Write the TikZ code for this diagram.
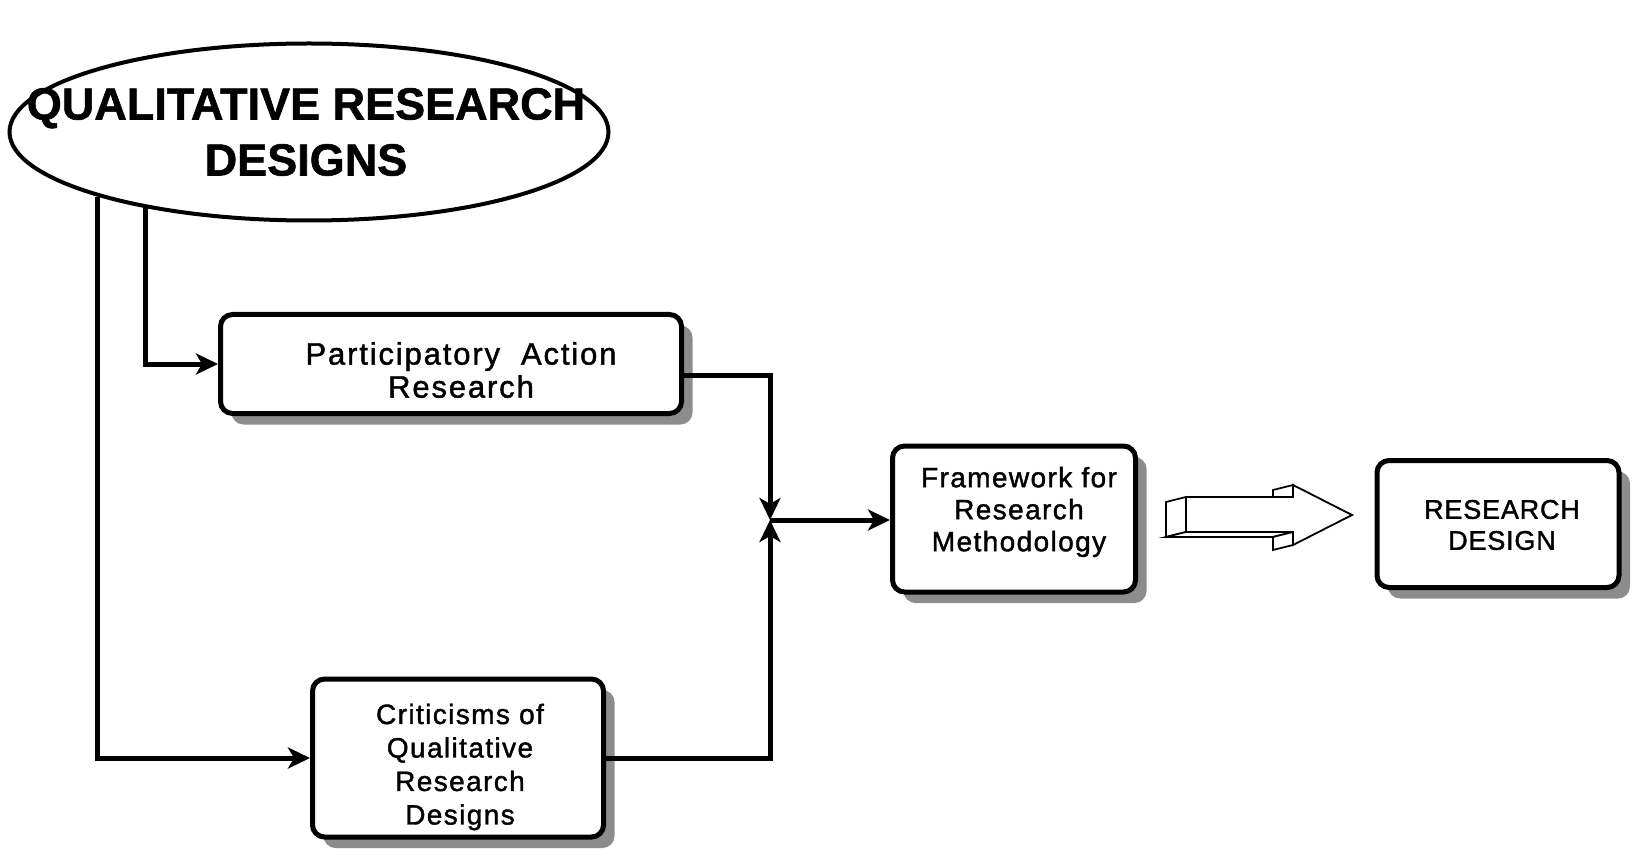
\documentclass[tikz,border=0pt]{standalone}
\usepackage{fontspec}
\setmainfont{Liberation Sans}
\newfontfamily\titlefont[FakeBold=1.2]{Liberation Sans Bold}
\newfontfamily\boxfont[LetterSpace=5,FakeBold=1.4]{Liberation Sans}
\newfontfamily\parfont[LetterSpace=6,FakeBold=1.4]{Liberation Sans}
\newfontfamily\rdfont[LetterSpace=3,FakeBold=1.4]{Liberation Sans}
\usetikzlibrary{arrows.meta,shapes.geometric,shadows}

\begin{document}
\begin{tikzpicture}[x=1pt,y=-1pt,
  box/.style={draw, line width=5pt, rounded corners=12pt, fill=white,
    inner sep=0pt,
    drop shadow={shadow xshift=11pt, shadow yshift=-11pt, opacity=1, fill=black!45}},
  boxtext/.style={align=center, inner sep=0pt},
  conn/.style={line width=5pt, -{Stealth[length=22pt,width=21pt,inset=6pt]}},
  fat/.style={draw, line width=1.8pt, fill=white, line join=miter}
]
\useasboundingbox (0,0) rectangle (1635,858);

% heading ellipse and its title
\node[draw, ellipse, line width=4pt, minimum width=599pt, minimum height=177pt,
      inner sep=0pt, fill=white] (ell) at (309,132) {};
\node[font=\titlefont\fontsize{45}{56}\selectfont, align=center] (title) at (306,132)
  {QUALITATIVE RESEARCH\\DESIGNS};

% boxes
\node[box, minimum width=461pt, minimum height=99pt] (par) at (451,364) {};
\node[boxtext, font=\parfont\fontsize{31}{33}\selectfont] (partext) at (461,370)
  {Participatory\ \ Action\\Research};

\node[box, minimum width=291pt, minimum height=158pt] (crit) at (458,758) {};
\node[boxtext, font=\boxfont\fontsize{28}{33.5}\selectfont] (crittext) at (460,767)
  {Criticisms of\\Qualitative\\Research\\Designs};

\node[box, minimum width=243pt, minimum height=146pt] (frame) at (1014,519) {};
\node[boxtext, font=\boxfont\fontsize{28}{32}\selectfont] (frametext) at (1019,512)
  {Framework for\\Research\\Methodology};

\node[box, minimum width=242pt, minimum height=127pt] (rd) at (1498,524) {};
\node[boxtext, font=\rdfont\fontsize{27}{31}\selectfont] (rdtext) at (1502,525)
  {RESEARCH\\DESIGN};

% connectors
\coordinate (jn) at (770,520);
\draw[conn] (ell.205) |- (par.west);
\draw[conn] (ell.197) |- (crit.west);
\draw[conn] ([yshift=-11pt]par.east) -| (jn);
\draw[conn] (crit.east) -| (jn);
\draw[conn] (jn) -- (jn -| frame.west);

% hollow block arrow drawn in perspective
\draw[fat] (1166,502) -- (1186,497) -- (1186,532) -- (1166,537) -- cycle;
\draw[fat] (1166,537) -- (1186,532) -- (1293,532) -- (1273,537) -- cycle;
\draw[fat] (1273,490) -- (1293,485) -- (1293,497) -- (1273,497) -- cycle;
\draw[fat] (1273,537) -- (1293,532) -- (1293,545) -- (1273,550) -- cycle;
\draw[fat] (1186,497) -- (1293,497) -- (1293,485) -- (1352,515)
  -- (1293,545) -- (1293,532) -- (1186,532) -- cycle;
\end{tikzpicture}
\end{document}
